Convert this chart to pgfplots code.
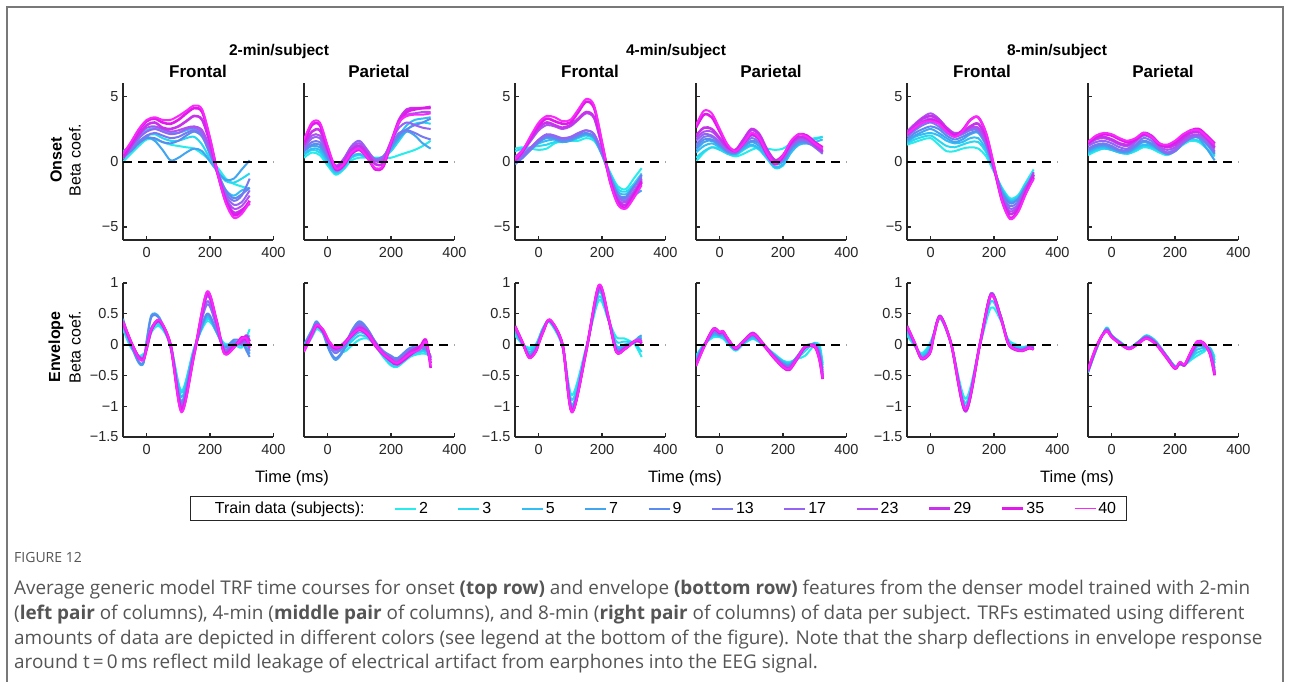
\documentclass[border=0pt]{standalone}
\usepackage{fontspec}
\setmainfont{Liberation Sans}
\newfontfamily\capfont{Open Sans}
\usepackage{pgfplots}
\usepackage{pgfplotstable}
\pgfplotsset{compat=1.18}

\definecolor{c2}{RGB}{40,235,235}
\definecolor{c3}{RGB}{40,215,240}
\definecolor{c5}{RGB}{50,190,245}
\definecolor{c7}{RGB}{65,165,240}
\definecolor{c9}{RGB}{90,140,240}
\definecolor{c13}{RGB}{120,120,240}
\definecolor{c17}{RGB}{150,100,245}
\definecolor{c23}{RGB}{175,80,240}
\definecolor{c29}{RGB}{200,50,235}
\definecolor{c35}{RGB}{225,25,235}
\definecolor{c40}{RGB}{250,40,250}
\definecolor{axgray}{RGB}{38,38,38}
\definecolor{capgray}{RGB}{85,85,85}
\definecolor{framegray}{RGB}{120,120,120}

\tikzset{
 sc2/.style={draw=c2,line width=2pt}, sc3/.style={draw=c3,line width=2pt},
 sc5/.style={draw=c5,line width=2pt}, sc7/.style={draw=c7,line width=2pt},
 sc9/.style={draw=c9,line width=2pt}, sc13/.style={draw=c13,line width=2pt},
 sc17/.style={draw=c17,line width=2pt}, sc23/.style={draw=c23,line width=2pt},
 sc29/.style={draw=c29,line width=2.6pt}, sc35/.style={draw=c35,line width=2.6pt},
 sc40/.style={draw=c40,line width=2pt},
}

% ---------- data: one row per curve, one column per time (ms) ----------
\pgfplotstableread{
name -75 -50 -25 0 25 50 75 100 125 150 175 200 225 250 275 300 325
c2  0.0 0.6 1.2 1.7 1.7 1.5 1.3 1.2 1.1 1.0 0.6 0.1 -0.5 -1.3 -1.7 -1.9 -2.1
c3  0.3 1.0 1.5 2.0 2.1 1.8 1.6 1.6 1.8 1.9 1.3 0.2 -0.8 -1.5 -1.6 -1.3 -0.9
c5  0.6 1.2 1.8 2.4 2.6 2.4 2.2 2.2 2.4 2.5 2.0 0.5 -1.0 -2.2 -2.6 -2.2 -2.0
c7  0.8 1.2 1.6 1.9 1.6 0.9 0.1 0.3 0.7 1.0 0.8 0.0 -0.8 -1.4 -1.3 -0.6 0.1
c9  0.3 0.8 1.4 1.8 1.8 1.5 1.4 1.6 2.0 2.3 1.9 0.6 -0.9 -2.2 -2.8 -2.5 -2.0
c13 0.2 0.9 1.5 2.0 2.2 2.0 1.8 1.9 2.2 2.4 2.0 0.7 -0.9 -2.4 -3.0 -2.6 -1.3
c17 0.4 1.1 1.8 2.3 2.5 2.3 2.1 2.2 2.5 2.6 2.2 0.8 -1.0 -2.6 -3.3 -3.1 -2.2
c23 0.5 1.3 2.0 2.6 2.7 2.5 2.3 2.4 2.6 2.7 2.4 1.0 -1.0 -2.8 -3.6 -3.4 -2.6
c29 0.3 1.2 2.1 2.8 3.0 2.6 2.5 2.7 3.1 3.5 3.2 1.4 -1.0 -3.0 -3.9 -3.7 -3.2
c35 0.5 1.4 2.4 3.1 3.3 3.0 2.9 3.2 3.7 4.1 3.8 1.7 -1.0 -3.1 -4.1 -3.8 -3.0
c40 0.6 1.5 2.5 3.2 3.4 3.2 3.2 3.5 3.9 4.3 4.0 1.8 -1.0 -3.2 -4.3 -4.0 -3.1
}\rawA
\pgfplotstableread{
name -75 -50 -25 0 25 50 75 100 125 150 175 200 225 250 275 300 325
c2  0.3 0.7 0.5 -0.3 -1.0 -0.6 0.1 0.3 0.3 0.3 0.3 0.3 0.5 0.7 0.9 1.2 1.6
c3  0.5 0.9 0.7 -0.1 -0.9 -0.5 0.3 0.5 0.3 0.2 0.3 0.8 1.6 2.4 2.9 3.0 2.9
c5  0.6 1.0 0.9 0.0 -0.8 -0.4 0.4 0.6 0.3 0.1 0.3 1.0 2.0 2.8 3.2 3.3 3.4
c7  0.8 1.2 1.1 0.2 -0.7 -0.2 0.6 0.9 0.5 0.2 0.3 1.0 1.8 2.3 2.0 1.4 1.0
c9  0.8 1.3 1.3 0.3 -0.6 -0.1 0.8 1.1 0.6 0.2 0.4 1.2 2.0 2.5 2.8 3.0 3.3
c13 0.9 1.5 1.5 0.5 -0.5 0.0 1.0 1.4 0.8 0.2 0.4 1.3 2.2 2.4 2.2 1.9 1.7
c17 1.0 1.8 1.8 0.6 -0.4 0.2 1.2 1.6 0.9 0.1 0.3 1.5 2.6 3.0 2.8 2.6 2.5
c23 1.2 2.0 2.0 0.8 -0.3 0.2 1.1 1.4 0.8 0.0 0.2 1.6 3.0 3.6 3.7 3.8 3.8
c29 1.3 2.3 2.4 0.9 -0.4 0.0 0.9 1.2 0.6 -0.2 -0.1 1.5 3.2 4.0 4.1 4.1 4.2
c35 1.5 2.8 2.8 1.0 -0.6 -0.3 0.6 0.9 0.3 -0.6 -0.4 1.4 3.0 3.8 4.0 4.1 4.1
c40 1.7 3.0 3.0 1.2 -0.5 -0.2 0.7 1.0 0.3 -0.5 -0.3 1.5 3.0 3.5 3.6 3.6 3.7
}\rawB
\pgfplotstableread{
name -75 -50 -25 0 25 50 75 100 125 150 175 200 225 250 275 300 325
c2  1.0 1.1 1.0 0.9 1.0 1.4 1.6 1.6 1.6 1.8 1.6 0.6 -0.8 -1.9 -2.1 -1.3 -0.5
c3  0.8 1.0 1.1 1.2 1.3 1.5 1.5 1.6 1.8 2.0 1.7 0.5 -0.9 -2.1 -2.3 -1.7 -0.9
c5  0.4 0.7 1.1 1.4 1.6 1.7 1.6 1.7 1.9 2.1 1.8 0.6 -1.0 -2.3 -2.5 -1.9 -1.1
c7  0.1 0.5 1.0 1.5 1.8 1.7 1.5 1.6 1.9 2.1 1.8 0.5 -1.2 -2.6 -2.9 -2.6 -2.2
c9  -0.2 0.3 0.9 1.5 1.9 1.8 1.6 1.7 2.0 2.2 1.9 0.6 -1.1 -2.5 -2.7 -1.9 -1.2
c13 -0.1 0.4 1.0 1.6 2.0 1.9 1.7 1.8 2.1 2.4 2.1 0.7 -1.1 -2.6 -2.8 -2.0 -1.0
c17 0.0 0.5 1.1 1.7 2.1 2.0 1.8 1.9 2.2 2.4 2.1 0.7 -1.2 -2.7 -3.0 -2.3 -1.4
c23 0.3 0.8 1.6 2.4 2.8 2.7 2.5 2.7 3.2 3.7 3.3 1.1 -1.3 -2.9 -3.1 -2.3 -1.3
c29 0.3 0.9 1.8 2.6 3.0 2.8 2.6 2.8 3.3 3.8 3.4 1.2 -1.4 -3.0 -3.3 -2.5 -1.6
c35 0.1 0.8 1.9 2.8 3.3 3.1 2.9 3.0 3.8 4.6 4.1 1.4 -1.5 -3.2 -3.5 -2.6 -1.5
c40 0.2 0.9 2.0 3.0 3.5 3.4 3.1 3.2 4.0 4.8 4.3 1.5 -1.5 -3.3 -3.6 -2.8 -1.8
}\rawC
\pgfplotstableread{
name -75 -50 -25 0 25 50 75 100 125 150 175 200 225 250 275 300 325
c2  0.0 0.7 1.1 1.0 0.6 0.4 0.6 0.9 1.1 1.0 0.9 1.0 1.4 1.6 1.7 1.8 1.9
c3  0.3 0.8 1.1 0.9 0.6 0.5 0.9 1.2 0.9 0.2 -0.5 -0.3 0.7 1.3 1.5 1.7 1.9
c5  0.7 1.2 1.4 1.1 0.7 0.6 1.0 1.3 1.0 0.3 -0.4 -0.2 0.7 1.3 1.4 1.5 1.7
c7  0.9 1.5 1.6 1.2 0.7 0.6 1.1 1.5 1.2 0.5 -0.2 0.0 0.9 1.4 1.4 1.2 0.9
c9  1.1 1.7 1.7 1.3 0.8 0.7 1.2 1.6 1.4 0.6 -0.1 0.1 1.0 1.5 1.5 1.2 0.8
c13 1.3 1.9 1.9 1.4 0.8 0.7 1.3 1.8 1.5 0.7 0.0 0.2 1.1 1.6 1.5 1.1 0.6
c17 1.6 2.1 2.0 1.5 0.9 0.7 1.4 2.0 1.7 0.8 0.1 0.3 1.2 1.7 1.6 1.2 0.7
c23 1.8 2.3 2.3 1.7 1.0 0.8 1.6 2.4 2.0 0.9 0.1 0.4 1.3 1.8 1.7 1.2 0.7
c29 2.0 2.6 2.5 1.8 1.1 0.9 1.7 2.5 2.1 0.9 0.1 0.5 1.4 1.9 1.8 1.3 0.8
c35 2.6 3.6 3.4 2.3 1.2 0.8 1.4 2.1 1.7 0.5 -0.2 0.4 1.5 2.1 2.0 1.5 1.1
c40 2.8 3.9 3.7 2.5 1.3 0.8 1.4 2.2 1.8 0.6 -0.1 0.5 1.6 2.1 1.9 1.4 1.0
}\rawD
\pgfplotstableread{
name -75 -50 -25 0 25 50 75 100 125 150 175 200 225 250 275 300 325
c2  1.3 1.5 1.7 1.8 1.3 0.8 0.8 1.0 1.1 1.0 0.4 -0.8 -2.0 -2.8 -2.6 -1.6 -0.6
c3  1.4 1.7 1.9 2.0 1.6 1.2 1.1 1.3 1.5 1.5 0.7 -0.7 -2.1 -2.9 -2.7 -1.7 -0.9
c5  1.5 1.9 2.1 2.2 2.0 1.6 1.4 1.5 1.8 1.8 0.9 -0.6 -2.2 -3.0 -2.8 -1.9 -1.2
c7  1.6 2.0 2.3 2.5 2.2 1.8 1.5 1.7 2.1 2.2 1.2 -0.5 -2.3 -3.1 -2.9 -2.0 -1.4
c9  1.7 2.2 2.5 2.7 2.5 2.0 1.7 1.9 2.2 2.3 1.3 -0.5 -2.4 -3.2 -2.9 -1.9 -1.1
c13 1.9 2.4 2.8 3.0 2.7 2.2 1.9 2.1 2.4 2.4 1.3 -0.6 -2.6 -3.4 -3.1 -2.0 -1.0
c17 2.0 2.6 3.1 3.3 3.0 2.4 2.0 2.2 2.5 2.5 1.4 -0.6 -2.7 -3.6 -3.3 -2.1 -0.9
c23 2.3 2.9 3.4 3.7 3.3 2.6 2.2 2.3 2.6 2.6 1.5 -0.6 -2.8 -3.8 -3.4 -2.1 -0.8
c29 2.2 2.8 3.3 3.5 3.2 2.6 2.1 2.3 2.7 2.9 1.8 -0.5 -2.9 -4.0 -3.6 -2.3 -1.0
c35 2.1 2.6 3.0 3.2 3.0 2.4 2.0 2.4 3.2 3.4 2.1 -0.4 -3.0 -4.3 -3.8 -2.4 -1.2
c40 2.1 2.6 3.0 3.1 2.9 2.3 1.9 2.3 3.2 3.4 2.2 -0.3 -3.0 -4.4 -3.9 -2.5 -1.3
}\rawE
\pgfplotstableread{
name -75 -50 -25 0 25 50 75 100 125 150 175 200 225 250 275 300 325
c2  0.5 0.8 1.0 0.9 0.7 0.6 0.8 1.1 1.0 0.7 0.5 0.8 1.3 1.6 1.5 1.0 0.5
c3  0.6 0.9 1.0 0.9 0.7 0.6 0.9 1.2 1.1 0.8 0.6 0.9 1.4 1.7 1.6 1.0 0.4
c5  0.7 1.0 1.1 0.9 0.7 0.7 1.0 1.3 1.2 0.9 0.7 1.0 1.6 2.0 1.9 1.3 0.6
c7  0.8 1.1 1.2 1.0 0.8 0.7 1.1 1.5 1.3 0.9 0.6 0.9 1.5 1.9 1.8 1.0 0.1
c9  0.9 1.2 1.3 1.1 0.8 0.8 1.2 1.6 1.4 0.9 0.6 0.8 1.4 1.8 1.9 1.4 0.6
c13 1.0 1.3 1.4 1.2 0.9 0.9 1.3 1.8 1.6 1.0 0.6 0.8 1.4 1.8 1.9 1.4 0.7
c17 1.2 1.5 1.6 1.4 1.1 1.0 1.5 2.0 1.8 1.1 0.7 0.9 1.5 1.9 2.0 1.6 0.8
c23 1.3 1.7 1.8 1.6 1.3 1.2 1.6 2.1 1.9 1.2 0.9 1.1 1.6 2.0 2.1 1.7 1.0
c29 1.5 1.8 1.9 1.7 1.4 1.3 1.7 2.2 2.0 1.4 1.1 1.3 1.8 2.2 2.3 1.8 1.1
c35 1.4 1.9 2.1 2.0 1.7 1.5 1.7 2.1 1.9 1.3 1.2 1.5 2.0 2.4 2.5 2.0 1.4
c40 1.5 2.0 2.2 2.1 1.8 1.6 1.8 2.2 1.9 1.4 1.3 1.6 2.1 2.4 2.4 1.9 1.3
}\rawF
\pgfplotstableread{
name -75 -50 -25 -10 0 15 40 75 110 150 190 220 245 275 300 315 325
c2  0.25 -0.05 -0.18 -0.15 -0.08 0.20 0.30 0.00 -0.75 -0.05 0.38 0.22 0.02 0.00 -0.05 0.12 0.25
c3  0.28 -0.02 -0.20 -0.18 -0.05 0.25 0.33 0.00 -0.78 -0.06 0.42 0.22 0.00 0.03 -0.02 0.08 0.15
c5  0.30 0.00 -0.22 -0.20 -0.02 0.28 0.36 0.00 -0.85 -0.08 0.45 0.20 -0.02 0.05 0.00 0.05 0.10
c7  0.42 0.00 -0.30 -0.30 0.08 0.48 0.44 -0.03 -0.92 -0.10 0.48 0.22 -0.05 0.05 0.02 -0.05 -0.15
c9  0.40 0.00 -0.28 -0.28 0.05 0.45 0.42 -0.05 -0.95 -0.10 0.50 0.22 -0.05 0.08 0.05 -0.10 -0.20
c13 0.32 0.02 -0.20 -0.21 -0.02 0.27 0.39 -0.02 -0.98 -0.12 0.65 0.30 -0.08 0.02 0.00 0.03 -0.10
c17 0.33 0.03 -0.19 -0.22 -0.03 0.26 0.38 -0.01 -1.00 -0.12 0.70 0.32 -0.10 0.00 0.02 0.06 -0.05
c23 0.35 0.04 -0.20 -0.22 -0.05 0.24 0.38 -0.01 -1.03 -0.14 0.78 0.36 -0.12 -0.03 0.08 0.05 -0.02
c29 0.37 0.05 -0.21 -0.23 -0.04 0.25 0.39 0.00 -1.05 -0.15 0.82 0.38 -0.13 -0.02 0.05 0.15 0.05
c35 0.36 0.04 -0.22 -0.24 -0.06 0.24 0.38 0.00 -1.08 -0.15 0.84 0.40 -0.14 -0.05 0.12 0.08 0.00
c40 0.38 0.05 -0.22 -0.25 -0.05 0.25 0.40 0.00 -1.10 -0.15 0.86 0.40 -0.15 -0.05 0.10 0.10 -0.05
}\rawG
\pgfplotstableread{
name -75 -50 -35 -15 5 25 50 75 100 125 150 175 200 220 260 290 310 325
c2  -0.10 0.12 0.25 0.18 0.02 -0.06 -0.12 -0.02 0.08 0.10 -0.02 -0.20 -0.34 -0.36 -0.20 -0.15 -0.15 -0.20
c3  -0.08 0.15 0.28 0.20 0.02 -0.08 -0.08 0.05 0.15 0.12 0.00 -0.18 -0.32 -0.35 -0.18 -0.12 -0.12 -0.22
c5  -0.05 0.18 0.30 0.20 0.00 -0.10 -0.05 0.10 0.20 0.15 0.02 -0.15 -0.28 -0.30 -0.15 -0.10 -0.10 -0.25
c7  0.00 0.24 0.38 0.18 -0.10 -0.25 -0.10 0.20 0.37 0.25 0.04 -0.12 -0.20 -0.24 -0.06 -0.05 -0.06 -0.20
c9  -0.02 0.22 0.37 0.20 -0.08 -0.22 -0.08 0.22 0.38 0.26 0.05 -0.10 -0.18 -0.22 -0.05 -0.06 -0.08 -0.18
c13 -0.04 0.20 0.34 0.22 -0.02 -0.14 -0.02 0.20 0.34 0.24 0.04 -0.12 -0.20 -0.25 -0.08 -0.04 -0.05 -0.20
c17 -0.06 0.18 0.32 0.22 0.00 -0.10 0.00 0.18 0.31 0.22 0.03 -0.13 -0.22 -0.27 -0.10 -0.04 -0.02 -0.22
c23 -0.08 0.17 0.31 0.22 0.02 -0.07 0.02 0.17 0.29 0.21 0.02 -0.14 -0.25 -0.28 -0.12 -0.05 0.00 -0.25
c29 -0.10 0.18 0.32 0.24 0.04 -0.05 0.02 0.16 0.27 0.20 0.02 -0.14 -0.24 -0.30 -0.12 -0.03 0.02 -0.30
c35 -0.10 0.16 0.30 0.22 0.03 -0.06 0.00 0.14 0.24 0.16 -0.02 -0.16 -0.27 -0.32 -0.17 -0.05 0.08 -0.38
c40 -0.12 0.15 0.32 0.25 0.05 -0.05 0.00 0.15 0.25 0.18 0.00 -0.15 -0.25 -0.30 -0.15 -0.08 0.05 -0.35
}\rawH
\pgfplotstableread{
name -75 -50 -30 -10 0 15 35 75 105 150 190 220 245 270 300 315 325
c2  0.15 0.00 -0.05 0.00 0.10 0.28 0.36 -0.03 -0.82 -0.04 0.72 0.40 0.12 0.10 0.02 -0.10 -0.20
c3  0.18 0.00 -0.08 -0.02 0.10 0.28 0.37 -0.02 -0.90 -0.05 0.78 0.40 0.05 0.05 0.03 -0.05 -0.12
c5  0.22 0.00 -0.12 -0.04 0.08 0.28 0.38 -0.02 -0.98 -0.07 0.85 0.42 -0.02 0.00 0.04 0.10 0.12
c7  0.25 0.00 -0.16 -0.06 0.06 0.26 0.39 -0.01 -1.02 -0.08 0.88 0.42 -0.05 -0.03 0.05 0.12 0.15
c9  0.27 0.00 -0.18 -0.08 0.05 0.25 0.39 -0.01 -1.05 -0.08 0.90 0.41 -0.08 -0.04 0.04 0.08 0.10
c13 0.28 0.01 -0.20 -0.10 0.04 0.24 0.39 0.00 -1.08 -0.09 0.92 0.42 -0.10 -0.05 0.04 0.08 0.06
c17 0.29 0.01 -0.20 -0.10 0.04 0.24 0.40 0.00 -1.10 -0.09 0.93 0.42 -0.10 -0.06 0.05 0.06 0.04
c23 0.29 0.01 -0.21 -0.11 0.03 0.23 0.40 0.00 -1.09 -0.10 0.94 0.43 -0.11 -0.06 0.04 0.05 0.03
c29 0.30 0.02 -0.21 -0.11 0.03 0.23 0.40 0.00 -1.08 -0.10 0.95 0.44 -0.11 -0.07 0.05 0.07 0.05
c35 0.30 0.02 -0.21 -0.12 0.02 0.22 0.40 0.00 -1.09 -0.10 0.96 0.44 -0.12 -0.08 0.04 0.06 0.02
c40 0.30 0.02 -0.22 -0.12 0.02 0.22 0.41 0.00 -1.10 -0.10 0.97 0.45 -0.12 -0.08 0.05 0.08 0.04
}\rawI
\pgfplotstableread{
name -75 -50 -20 0 10 25 50 75 105 135 170 200 220 245 270 300 315 325
c2  -0.18 0.00 0.12 0.12 0.10 0.02 -0.10 0.01 0.09 0.00 -0.14 -0.26 -0.28 -0.23 -0.18 0.00 0.00 -0.30
c3  -0.20 0.00 0.15 0.13 0.12 0.03 -0.09 0.02 0.10 0.00 -0.15 -0.27 -0.30 -0.22 -0.10 0.03 -0.05 -0.33
c5  -0.22 0.00 0.16 0.14 0.14 0.05 -0.08 0.03 0.12 0.01 -0.16 -0.28 -0.31 -0.20 -0.05 0.02 -0.10 -0.38
c7  -0.24 -0.01 0.18 0.15 0.16 0.06 -0.07 0.04 0.14 0.01 -0.17 -0.30 -0.33 -0.19 -0.03 0.00 -0.14 -0.42
c9  -0.26 -0.01 0.20 0.16 0.17 0.07 -0.07 0.04 0.15 0.02 -0.17 -0.31 -0.34 -0.19 -0.02 0.00 -0.15 -0.45
c13 -0.28 -0.02 0.22 0.17 0.19 0.08 -0.06 0.05 0.17 0.02 -0.18 -0.32 -0.36 -0.20 -0.03 -0.01 -0.17 -0.48
c17 -0.30 -0.02 0.24 0.18 0.20 0.09 -0.06 0.05 0.18 0.03 -0.18 -0.33 -0.37 -0.20 -0.03 -0.01 -0.18 -0.50
c23 -0.32 -0.03 0.25 0.19 0.21 0.10 -0.05 0.06 0.19 0.03 -0.19 -0.34 -0.38 -0.21 -0.04 -0.02 -0.20 -0.52
c29 -0.34 -0.03 0.26 0.20 0.22 0.10 -0.05 0.06 0.19 0.03 -0.19 -0.35 -0.39 -0.22 -0.04 -0.02 -0.22 -0.55
c35 -0.33 -0.04 0.24 0.19 0.21 0.09 -0.07 0.05 0.17 0.01 -0.21 -0.37 -0.41 -0.23 -0.04 -0.04 -0.25 -0.56
c40 -0.35 -0.05 0.25 0.20 0.22 0.10 -0.06 0.05 0.17 0.02 -0.20 -0.36 -0.40 -0.22 -0.03 -0.03 -0.25 -0.55
}\rawJ
\pgfplotstableread{
name -75 -50 -30 -10 0 10 30 65 110 155 190 220 245 270 290 310 325
c2  0.15 -0.03 -0.14 -0.05 0.05 0.18 0.42 0.00 -0.88 -0.02 0.60 0.40 0.08 0.00 -0.04 -0.02 -0.03
c3  0.18 -0.02 -0.16 -0.08 0.02 0.18 0.44 0.00 -0.95 0.00 0.70 0.44 0.06 -0.03 -0.05 -0.02 -0.04
c5  0.22 -0.01 -0.18 -0.12 -0.02 0.18 0.45 0.00 -1.00 0.00 0.80 0.48 0.04 -0.05 -0.06 -0.02 -0.04
c7  0.26 0.00 -0.20 -0.14 -0.04 0.18 0.46 0.00 -1.03 0.00 0.83 0.48 0.03 -0.06 -0.07 -0.03 -0.05
c9  0.27 0.00 -0.21 -0.16 -0.06 0.17 0.46 0.00 -1.05 0.00 0.83 0.48 0.02 -0.07 -0.08 -0.03 -0.05
c13 0.28 0.00 -0.22 -0.17 -0.07 0.17 0.47 0.00 -1.07 0.00 0.82 0.47 0.01 -0.08 -0.09 -0.04 -0.06
c17 0.29 0.00 -0.23 -0.18 -0.08 0.16 0.47 0.00 -1.09 0.00 0.83 0.47 0.01 -0.08 -0.09 -0.04 -0.06
c23 0.29 0.01 -0.23 -0.19 -0.09 0.16 0.46 0.00 -1.08 0.00 0.82 0.46 0.01 -0.09 -0.10 -0.05 -0.07
c29 0.30 0.01 -0.23 -0.19 -0.10 0.15 0.46 0.00 -1.08 0.00 0.81 0.46 0.01 -0.09 -0.10 -0.05 -0.08
c35 0.30 0.02 -0.22 -0.18 -0.10 0.15 0.45 0.00 -1.06 0.00 0.80 0.45 0.02 -0.08 -0.10 -0.06 -0.07
c40 0.30 0.02 -0.22 -0.18 -0.10 0.15 0.45 0.00 -1.05 0.00 0.80 0.45 0.02 -0.08 -0.10 -0.05 -0.08
}\rawK
\pgfplotstableread{
name -75 -50 -30 -15 0 25 55 85 110 140 175 200 215 230 250 270 290 310 325
c2  -0.45 -0.10 0.15 0.28 0.15 0.05 -0.05 0.05 0.15 0.05 -0.20 -0.35 -0.32 -0.33 -0.25 -0.18 -0.12 -0.05 -0.20
c3  -0.45 -0.09 0.15 0.27 0.15 0.05 -0.05 0.05 0.15 0.05 -0.20 -0.35 -0.32 -0.33 -0.22 -0.13 -0.09 -0.05 -0.25
c5  -0.45 -0.09 0.15 0.26 0.15 0.04 -0.05 0.05 0.14 0.04 -0.19 -0.36 -0.32 -0.33 -0.20 -0.08 -0.06 -0.06 -0.30
c7  -0.44 -0.08 0.15 0.26 0.14 0.04 -0.05 0.05 0.13 0.03 -0.20 -0.36 -0.31 -0.34 -0.18 -0.03 -0.04 -0.08 -0.38
c9  -0.44 -0.08 0.15 0.25 0.14 0.04 -0.06 0.04 0.13 0.03 -0.20 -0.37 -0.31 -0.34 -0.17 0.00 -0.02 -0.10 -0.42
c13 -0.43 -0.07 0.15 0.24 0.14 0.03 -0.06 0.04 0.12 0.02 -0.20 -0.37 -0.30 -0.34 -0.16 0.01 -0.01 -0.11 -0.44
c17 -0.43 -0.07 0.15 0.24 0.13 0.03 -0.06 0.04 0.12 0.02 -0.21 -0.38 -0.30 -0.34 -0.15 0.02 0.00 -0.12 -0.46
c23 -0.42 -0.06 0.15 0.23 0.13 0.03 -0.06 0.03 0.11 0.01 -0.21 -0.38 -0.29 -0.33 -0.14 0.03 0.01 -0.13 -0.47
c29 -0.42 -0.06 0.15 0.23 0.13 0.02 -0.07 0.03 0.11 0.01 -0.22 -0.39 -0.29 -0.33 -0.13 0.04 0.02 -0.14 -0.49
c35 -0.41 -0.05 0.15 0.22 0.12 0.02 -0.07 0.02 0.10 0.00 -0.23 -0.39 -0.29 -0.33 -0.12 0.05 0.03 -0.15 -0.50
c40 -0.40 -0.05 0.15 0.22 0.12 0.02 -0.07 0.02 0.10 0.00 -0.22 -0.38 -0.28 -0.32 -0.12 0.05 0.02 -0.15 -0.48
}\rawL

\pgfplotstabletranspose[colnames from=name,input colnames to=t]{\tabA}{\rawA}
\pgfplotstabletranspose[colnames from=name,input colnames to=t]{\tabB}{\rawB}
\pgfplotstabletranspose[colnames from=name,input colnames to=t]{\tabC}{\rawC}
\pgfplotstabletranspose[colnames from=name,input colnames to=t]{\tabD}{\rawD}
\pgfplotstabletranspose[colnames from=name,input colnames to=t]{\tabE}{\rawE}
\pgfplotstabletranspose[colnames from=name,input colnames to=t]{\tabF}{\rawF}
\pgfplotstabletranspose[colnames from=name,input colnames to=t]{\tabG}{\rawG}
\pgfplotstabletranspose[colnames from=name,input colnames to=t]{\tabH}{\rawH}
\pgfplotstabletranspose[colnames from=name,input colnames to=t]{\tabI}{\rawI}
\pgfplotstabletranspose[colnames from=name,input colnames to=t]{\tabJ}{\rawJ}
\pgfplotstabletranspose[colnames from=name,input colnames to=t]{\tabK}{\rawK}
\pgfplotstabletranspose[colnames from=name,input colnames to=t]{\tabL}{\rawL}

\newcommand\trfcurves[1]{%
  \pgfplotsinvokeforeach{c2,c3,c5,c7,c9,c13,c17,c23,c29,c35,c40}{%
    \addplot[s##1, smooth, line join=round] table[x=t, y=##1] {#1};
  }%
  \addplot[black, line width=2pt, dash pattern=on 9pt off 6pt] coordinates {(-75,0) (400,0)};
}

\pgfplotsset{
 trf/.style={scale only axis, width=150.4pt, xmin=-75, xmax=400,
   axis x line*=bottom, axis y line*=left,
   axis line style={draw=axgray, line width=1.5pt, -},
   tick align=inside, major tick length=4pt,
   major tick style={draw=axgray, line width=1.2pt},
   xtick={0,200,400}, xticklabels={0,200,400},
   tick label style={font=\fontsize{14.5}{16}\selectfont, text=axgray},
   xticklabel style={yshift=-4pt},
   yticklabel style={xshift=-1pt},
 },
 toprow/.style={trf, height=156.7pt, ymin=-6, ymax=6, ytick={-5,0,5}},
 botrow/.style={trf, height=154pt, ymin=-1.5, ymax=1, ytick={-1.5,-1,-0.5,0,0.5,1}},
 topF/.style={toprow, yticklabels={−5,0,5}},
 botF/.style={botrow, yticklabels={−1.5,−1,−0.5,0,0.5,1}},
}

\begin{document}
\begin{tikzpicture}
\path[use as bounding box] (0pt,0pt) rectangle (1290pt,-681pt);
\fill[white] (0pt,0pt) rectangle (1290pt,-681pt);
\draw[framegray, line width=1.2pt] (7pt,-700pt) -- (7pt,-7pt) -- (1283pt,-7pt) -- (1283pt,-700pt);

% top row
\begin{axis}[topF, at={(123pt,-240pt)}, anchor=south west]
\trfcurves{\tabA}
\end{axis}
\begin{axis}[toprow, yticklabels={}, at={(304pt,-240pt)}, anchor=south west]
\trfcurves{\tabB}
\end{axis}
\begin{axis}[topF, at={(515pt,-240pt)}, anchor=south west]
\trfcurves{\tabC}
\end{axis}
\begin{axis}[toprow, yticklabels={}, at={(696pt,-240pt)}, anchor=south west]
\trfcurves{\tabD}
\end{axis}
\begin{axis}[topF, at={(907pt,-240pt)}, anchor=south west]
\trfcurves{\tabE}
\end{axis}
\begin{axis}[toprow, yticklabels={}, at={(1088pt,-240pt)}, anchor=south west]
\trfcurves{\tabF}
\end{axis}
% bottom row
\begin{axis}[botF, at={(123pt,-437pt)}, anchor=south west]
\trfcurves{\tabG}
\end{axis}
\begin{axis}[botrow, yticklabels={}, at={(304pt,-437pt)}, anchor=south west]
\trfcurves{\tabH}
\end{axis}
\begin{axis}[botF, at={(515pt,-437pt)}, anchor=south west]
\trfcurves{\tabI}
\end{axis}
\begin{axis}[botrow, yticklabels={}, at={(696pt,-437pt)}, anchor=south west]
\trfcurves{\tabJ}
\end{axis}
\begin{axis}[botF, at={(907pt,-437pt)}, anchor=south west]
\trfcurves{\tabK}
\end{axis}
\begin{axis}[botrow, yticklabels={}, at={(1088pt,-437pt)}, anchor=south west]
\trfcurves{\tabL}
\end{axis}

% titles
\begin{scope}[every node/.style={anchor=base, inner sep=0pt}]
\node[font=\bfseries\fontsize{15.5}{18}\selectfont] at (279pt,-55pt) {2-min/subject};
\node[font=\bfseries\fontsize{15.5}{18}\selectfont] at (676pt,-55pt) {4-min/subject};
\node[font=\bfseries\fontsize{15.5}{18}\selectfont] at (1057pt,-55pt) {8-min/subject};
\foreach \xx in {198,590,982}{\node[font=\bfseries\fontsize{17}{20}\selectfont] at (\xx pt,-77pt) {Frontal};}
\foreach \xx in {379,771,1163}{\node[font=\bfseries\fontsize{17}{20}\selectfont] at (\xx pt,-77pt) {Parietal};}
\foreach \xx in {292,685,1077}{\node[font=\fontsize{16.5}{19}\selectfont] at (\xx pt,-482pt) {Time (ms)};}
\end{scope}
\node[rotate=90, font=\bfseries\fontsize{16}{19}\selectfont, inner sep=0pt] at (56pt,-160pt) {Onset};
\node[rotate=90, font=\fontsize{16}{19}\selectfont, inner sep=0pt] at (75pt,-160pt) {Beta coef.};
\node[rotate=90, font=\bfseries\fontsize{16}{19}\selectfont, inner sep=0pt] at (56pt,-347pt) {Envelope};
\node[rotate=90, font=\fontsize{16}{19}\selectfont, inner sep=0pt] at (75pt,-347pt) {Beta coef.};

% legend
\begin{axis}[hide axis, scale only axis, width=10pt, height=10pt, xmin=0, xmax=1, ymin=0, ymax=1,
  at={(658.5pt,-508.5pt)}, anchor=center,
  legend columns=12,
  legend image code/.code={\draw[#1] (0pt,0pt) -- (21pt,0pt);},
  legend style={at={(0.5,0.5)}, anchor=center, draw=black!85, line width=1pt, fill=white,
    font=\fontsize{16}{18}\selectfont, inner xsep=8pt, inner ysep=3pt,
    nodes={inner sep=2pt}, cells={anchor=west},
    /tikz/every even column/.append style={column sep=27.5pt}},
]
\addlegendimage{empty legend}\addlegendentry{\hspace{14pt}Train data (subjects):\hspace{12pt}}
\addlegendimage{draw=c2, line width=2pt}\addlegendentry{2}
\addlegendimage{draw=c3, line width=2pt}\addlegendentry{3}
\addlegendimage{draw=c5, line width=2pt}\addlegendentry{5}
\addlegendimage{draw=c7, line width=2pt}\addlegendentry{7}
\addlegendimage{draw=c9, line width=2pt}\addlegendentry{9}
\addlegendimage{draw=c13, line width=2pt}\addlegendentry{13}
\addlegendimage{draw=c17, line width=2pt}\addlegendentry{17}
\addlegendimage{draw=c23, line width=2pt}\addlegendentry{23}
\addlegendimage{draw=c29, line width=2.6pt}\addlegendentry{29}
\addlegendimage{draw=c35, line width=2.6pt}\addlegendentry{35}
\addlegendimage{draw=c40, line width=1.6pt}\addlegendentry{40}
\end{axis}

% caption
\begin{scope}[every node/.style={anchor=base west, inner sep=0pt, text=capgray}]
\node[font=\capfont\fontsize{14}{16}\selectfont] at (14pt,-562pt) {FIGURE 12};
\node[font=\capfont\fontsize{18.9}{22}\selectfont] at (14pt,-594pt) {Average generic model TRF time courses for onset \textbf{(top row)} and envelope \textbf{(bottom row)} features from the denser model trained with 2-min};
\node[font=\capfont\fontsize{18.9}{22}\selectfont] at (14pt,-619pt) {(\textbf{left pair} of columns), 4-min (\textbf{middle pair} of columns), and 8-min (\textbf{right pair} of columns) of data per subject. TRFs estimated using different};
\node[font=\capfont\fontsize{18.9}{22}\selectfont] at (14pt,-644pt) {amounts of data are depicted in different colors (see legend at the bottom of the figure). Note that the sharp deflections in envelope response};
\node[font=\capfont\fontsize{18.9}{22}\selectfont] at (14pt,-668pt) {around t\,=\,0\,ms reflect mild leakage of electrical artifact from earphones into the EEG signal.};
\end{scope}
\end{tikzpicture}
\end{document}
